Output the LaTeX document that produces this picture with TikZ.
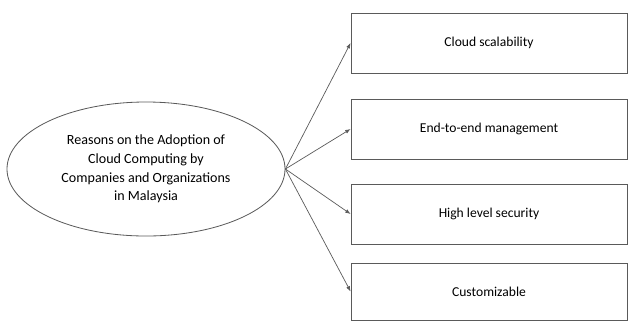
\documentclass[tikz,border=0pt]{standalone}
\usepackage{fontspec}
\setmainfont{Carlito}
\usepackage{tikz}
\usetikzlibrary{arrows.meta,positioning,shapes.geometric}
\definecolor{linecol}{RGB}{90,90,90}
\tikzset{
  reason/.style  ={ellipse, draw=linecol, line width=0.7pt, align=center,
                   minimum width=8.34cm, minimum height=4.02cm, inner sep=0pt,
                   font=\fontsize{12}{16}\selectfont},
  factor/.style  ={rectangle, draw=linecol, line width=0.7pt, align=center,
                   minimum width=8.28cm, minimum height=1.8cm, font=\fontsize{11.6}{14}\selectfont},
  flow/.style    ={-{Latex[length=1.6mm,width=1.2mm]}, line width=0.6pt, draw=linecol},
}
\begin{document}
\begin{tikzpicture}[x=0.03cm,y=-0.03cm]
    \useasboundingbox (0,0) rectangle (629,322);
    \node[reason] (r) at (146,169) {Reasons on the Adoption of\\ Cloud Computing by\\ Companies and Organizations\\ in Malaysia};
    \node[factor] (f1) at (489,43) {Cloud scalability};
    \node[factor] (f2) at (489,129) {End-to-end management};
    \node[factor] (f3) at (489,214) {High level security};
    \node[factor, minimum height=1.71cm] (f4) at (489,291.5) {Customizable};
    \draw[flow] (r.east) -- (f1.west);
    \draw[flow] (r.east) -- (f2.west);
    \draw[flow] (r.east) -- (f3.west);
    \draw[flow] (r.east) -- (f4.west);
  \end{tikzpicture}
\end{document}
